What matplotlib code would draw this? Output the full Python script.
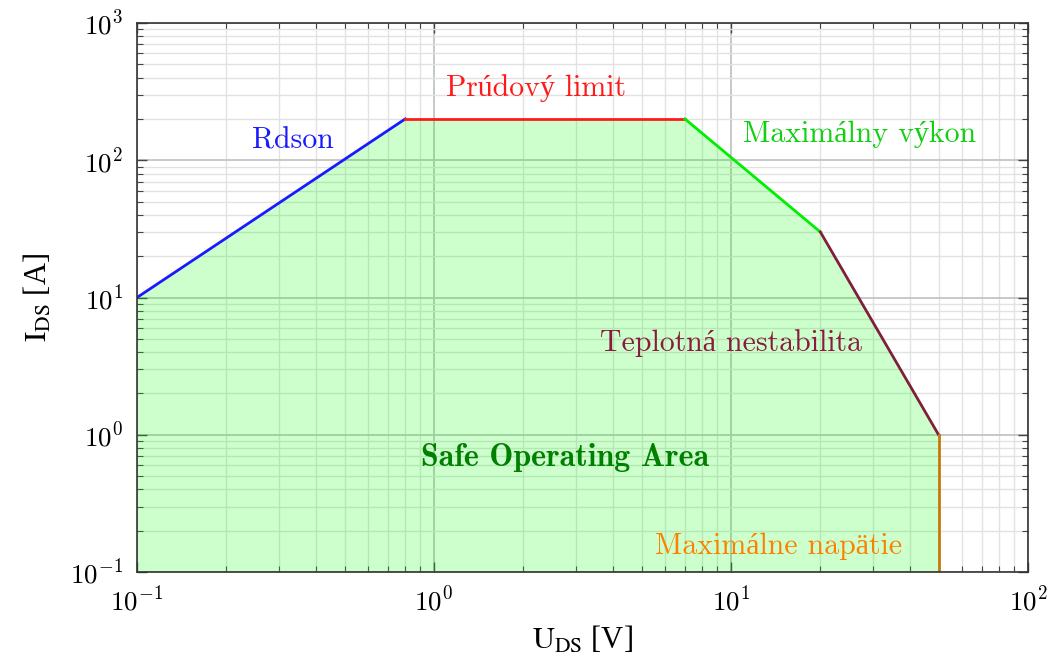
import matplotlib.pyplot as plt

plt.rcParams['font.family'] = ['cmr10', 'Liberation Serif']
plt.rcParams['mathtext.fontset'] = 'cm'
plt.rcParams['axes.formatter.use_mathtext'] = True

# SOA boundary segments (U_DS in V, I_DS in A)
rdson_u = [0.1, 0.8]
rdson_i = [10, 200]
limit_u = [0.8, 7]
limit_i = [200, 200]
power_u = [7, 20]
power_i = [200, 30]
thermal_u = [20, 50]
thermal_i = [30, 1]
vmax_u = [50, 50]
vmax_i = [1, 0.1]

area_u = rdson_u + limit_u[1:] + power_u[1:] + thermal_u[1:] + vmax_u[1:]
area_i = rdson_i + limit_i[1:] + power_i[1:] + thermal_i[1:] + vmax_i[1:]

fig = plt.figure(figsize=(10.54, 6.54), dpi=100)
ax = fig.add_axes([0.130, 0.1254, 0.8453, 0.8394])
ax.set_xscale('log')
ax.set_yscale('log')
ax.set_xlim(0.1, 100)
ax.set_ylim(0.1, 1000)

ax.grid(True, which='major', color='#c4c4c4', linewidth=1.3)
ax.grid(True, which='minor', color='#e2e2e2', linewidth=1.0)
ax.set_axisbelow(True)

ax.fill_between(area_u, area_i, 0.1, color='#00ff00', alpha=0.2, linewidth=0)

lw = 2.0
ax.plot(rdson_u, rdson_i, color='#1a1aff', lw=lw)
ax.plot(limit_u, limit_i, color='#ff1a1a', lw=lw)
ax.plot(power_u, power_i, color='#00ee00', lw=lw)
ax.plot(thermal_u, thermal_i, color='#7f1f3a', lw=lw)
ax.plot(vmax_u, vmax_i, color='#c8780a', lw=lw)

fs = 21.5
ax.text(0.335, 138, 'Rdson', color='#1a1aff', fontsize=fs, ha='center', va='center')
ax.text(2.2, 336, 'Prúdový limit', color='#ff1a1a', fontsize=fs, ha='center', va='center')
ax.text(27.2, 155, 'Maximálny výkon', color='#10d010', fontsize=fs, ha='center', va='center')
ax.text(10, 4.66, 'Teplotná nestabilita', color='#8c1a40', fontsize=fs, ha='center', va='center')
ax.text(2.76, 0.678, 'Safe Operating Area', color='#008000', fontsize=23,
        ha='center', va='center', family=['cmb10', 'Liberation Serif'])
ax.text(14.5, 0.155, 'Maximálne napätie', color='#ff8000', fontsize=fs, ha='center', va='center')

lab = dict(fontsize=22, family='Liberation Serif', math_fontfamily='stix')
ax.set_xlabel(r'$\mathrm{U}_{\mathrm{DS}}$ [V]', labelpad=6, **lab)
ax.set_ylabel(r'$\mathrm{I}_{\mathrm{DS}}$ [A]', labelpad=12, **lab)

ax.tick_params(which='both', direction='in', top=True, right=True, labelsize=19.5, pad=10)
ax.tick_params(which='major', length=7, width=1.0, color='#444444')
ax.tick_params(which='minor', length=4, width=0.8, color='#444444')
for s in ax.spines.values():
    s.set_color('#333333')
    s.set_linewidth(1.2)

fig.savefig('out.png', dpi=100)
